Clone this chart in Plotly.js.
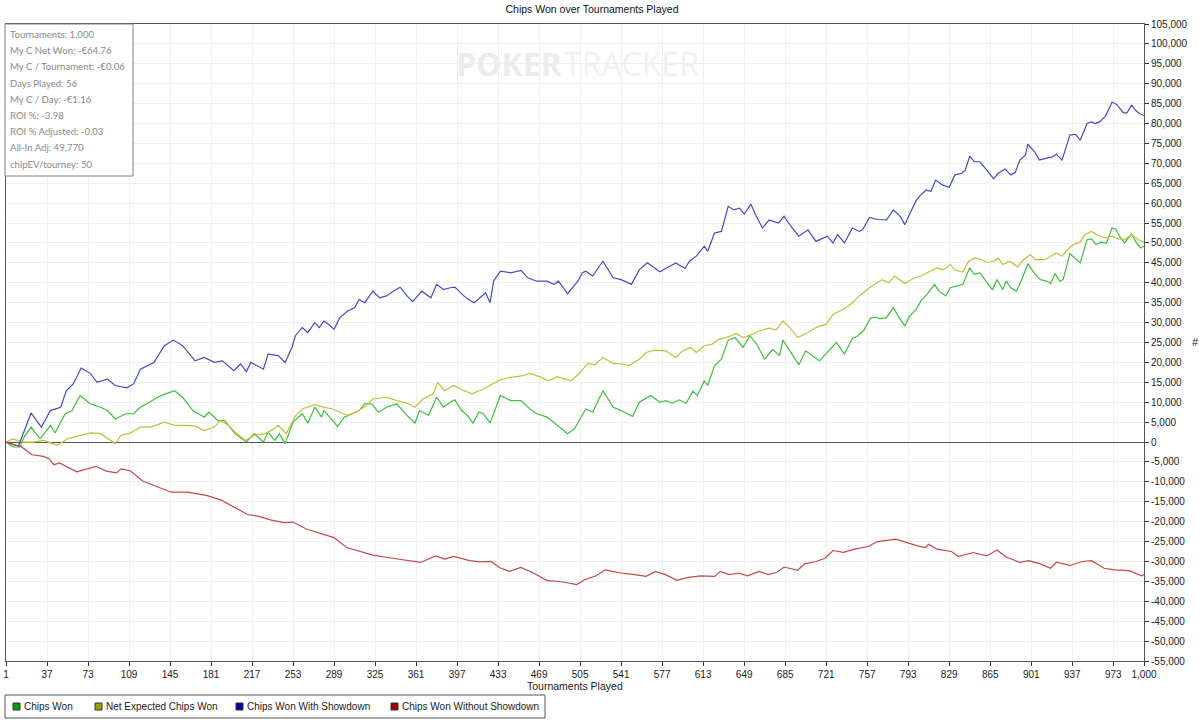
<!DOCTYPE html>
<html>
<head>
<meta charset="utf-8">
<script src="https://cdn.plot.ly/plotly-3.0.1.min.js"></script>
<style>
html,body{margin:0;padding:0;background:#fff;}
#chart{width:1199px;height:728px;}
</style>
</head>
<body>
<div id="chart"></div>
<script>
// ---- Data ----
const seriesNames = ["Chips Won", "Net Expected Chips Won", "Chips Won With Showdown", "Chips Won Without Showdown"];

const chipsWonT = [1,7,13,17,23,31,40,44,53,59,66,75,84,90,97,106,113,119,127,134,141,149,156,165,175,179,187,193,202,212,219,227,231,237,241,246,253,261,266,272,278,280,288,292,298,304,311,316,322,328,335,344,353,360,364,372,379,385,391,395,401,406,411,416,420,426,435,444,453,461,467,476,485,494,500,506,510,516,525,534,541,551,557,567,575,580,586,592,598,604,608,614,617,623,629,635,641,648,654,660,667,674,680,683,690,697,703,709,715,722,730,737,744,748,754,760,764,768,774,780,785,790,794,800,804,810,816,820,826,830,835,841,847,851,856,862,867,871,876,879,883,888,893,898,904,909,915,918,922,926,929,935,944,950,954,958,962,967,972,975,979,983,989,993,997,1000];
const chipsWonV = [0,-1250,-1250,1250,3750,800,4200,2250,7100,7900,11700,9600,8750,7900,5800,7100,7100,8750,10000,11250,12100,12900,11250,7900,6250,7500,5400,5400,2100,0,2100,0,2500,400,2100,-400,5000,7100,4750,8750,6250,7900,5400,3900,6250,7100,7900,9600,9600,7500,8750,9600,6700,4750,7900,6700,11250,8750,10000,10600,7900,6700,4750,7500,7100,4750,11700,10400,10400,8300,7100,6250,4200,2100,3300,6250,8300,7500,12900,8750,7900,6400,10000,11700,10000,10400,9750,10600,9750,12750,11700,15400,14200,19200,20800,25600,26250,23750,26700,24600,20800,23300,21700,25600,22500,19400,22900,21700,20400,22500,25000,22100,26000,26500,28000,31200,31400,31000,31250,33750,31250,29200,31500,33300,35400,37300,39600,37900,36700,38750,39200,39600,43750,42100,42500,40000,38200,40800,38300,40400,38750,37900,41000,44800,42300,40800,40400,39800,42300,40400,40800,47300,45000,50800,51000,49600,50200,50000,53750,53500,51500,50000,52300,50200,48750,49200];

const netExpT = [1,7,16,25,34,46,55,66,75,84,93,97,102,110,119,128,140,149,158,167,175,184,189,196,202,211,219,228,234,240,247,255,261,272,280,288,297,302,308,316,323,335,344,353,360,367,376,380,386,394,403,410,420,426,435,444,455,461,471,477,485,497,503,512,518,525,534,542,548,557,563,570,580,589,595,602,607,614,621,627,635,642,648,655,662,671,677,683,689,696,705,712,721,727,736,744,750,759,766,770,776,781,790,797,804,812,818,824,830,834,841,846,852,858,862,868,872,876,882,889,893,900,905,913,918,923,928,933,938,944,948,954,960,966,972,978,983,989,995,1000];
const netExpV = [0,800,0,0,400,-800,800,1700,2300,2100,400,-400,1700,2250,3750,3750,5000,4200,4200,4000,2900,3750,5400,4200,2500,400,1700,2100,2900,4200,2100,6500,8300,9400,8750,8300,7100,6700,7500,8900,10800,11250,10400,9750,8750,10800,12100,15000,12900,14200,12900,12100,13300,14200,15600,16250,16700,17250,16250,15400,16400,15400,16900,19750,19400,21250,19750,19600,19200,20800,22500,23100,22900,21250,22900,23750,22500,24200,24600,25800,26400,27250,26250,26900,27900,28600,28100,30400,28750,26250,27500,28750,29600,32100,33300,35000,36700,38750,40000,40800,40000,41700,39800,41000,41700,42900,43750,43300,44600,43200,42700,45400,46250,45800,45100,45400,46250,44600,45400,44000,45400,47100,45800,45800,46700,47500,46700,48300,49600,50200,52100,52900,51800,51250,51700,51000,50800,52100,50800,50200];

const withSdT = [1,12,16,23,32,40,49,54,60,67,75,81,90,97,107,113,119,131,140,148,156,167,175,184,191,201,207,212,216,227,231,240,246,252,255,261,266,272,276,280,284,289,294,301,307,311,316,323,329,335,341,347,353,358,366,374,379,385,391,395,403,407,412,419,422,426,429,435,444,453,459,467,476,482,486,494,503,507,510,516,525,534,541,550,557,564,575,582,589,597,601,607,614,617,623,629,635,640,645,649,655,659,665,671,679,684,690,697,705,712,722,727,731,737,744,750,753,759,766,774,780,786,790,794,800,804,809,813,817,823,829,834,840,843,847,851,856,862,868,872,878,883,887,891,896,898,904,908,914,920,923,928,935,940,944,950,954,957,961,966,972,976,982,985,989,993,996,1000];
const withSdV = [0,-1000,2000,7300,3750,7900,8750,12900,14600,18600,17250,15000,15800,14200,13600,14600,18300,20000,24200,25600,24200,20400,21250,20000,20400,17900,19600,17700,20000,18300,22100,21700,20000,23750,26700,28750,27500,30000,28750,30400,29600,28300,31250,32900,33750,35800,35000,37900,36250,36700,37900,38900,36700,35250,37900,36250,39600,38300,38750,38900,36700,35800,35000,36700,37500,35000,40400,42900,42500,43100,41250,40400,40400,39600,40400,37250,40400,42500,42900,41700,45400,41250,40800,39600,43300,45000,42750,43900,45000,43600,45400,46700,49200,47900,52500,52900,59200,58300,58750,57250,59750,57100,53750,55800,55000,56700,54200,51700,53300,50400,51700,50000,52100,50000,53750,52900,53300,56400,55900,55800,58300,56700,54600,57100,60700,62100,63300,62900,65800,64600,64000,67100,67500,68200,71800,70400,70400,68300,66100,67500,68600,67100,67700,70800,72100,74800,72900,70800,71250,71700,72300,70800,77100,77300,75800,80000,80400,80000,80400,81800,85400,84800,82700,82700,84600,83200,82500,82000];

const withoutSdT = [1,8,14,24,34,39,43,48,63,71,80,89,98,102,110,121,134,146,160,177,190,201,213,222,234,245,253,265,278,289,300,310,323,336,349,365,378,386,394,408,417,427,434,443,453,464,476,489,502,509,519,527,533,541,553,563,571,580,590,600,611,623,628,636,644,652,662,670,678,684,696,702,712,720,727,736,746,758,766,772,782,792,801,808,811,818,831,837,850,862,871,879,891,899,909,918,923,935,946,954,965,974,987,998,1000];
const withoutSdV = [0,-700,-1100,-3200,-3600,-4250,-5700,-5250,-7500,-6750,-6100,-7300,-7750,-6750,-7200,-9800,-11250,-12600,-12600,-13400,-14600,-16250,-18200,-18600,-19600,-20250,-20100,-21900,-23000,-24000,-26500,-27300,-28400,-29000,-29600,-30250,-28600,-29400,-28750,-29800,-30100,-30000,-31500,-32500,-31500,-32900,-34800,-35100,-35800,-34600,-33600,-32100,-32500,-32900,-33300,-33750,-32500,-33300,-34750,-34000,-33600,-33750,-32500,-33300,-32900,-33600,-32500,-33300,-32700,-31400,-32200,-30600,-30000,-29200,-27250,-27700,-26900,-26250,-25000,-24750,-24400,-25250,-26100,-26500,-25700,-26900,-27500,-28750,-27750,-28600,-27100,-28900,-30200,-29800,-30600,-31700,-30200,-31000,-30000,-29800,-31700,-32100,-32300,-33600,-33300];

const xTickVals = [1,37,73,109,145,181,217,253,289,325,361,397,433,469,505,541,577,613,649,685,721,757,793,829,865,901,937,973,1000];
const xTickText = ["1","37","73","109","145","181","217","253","289","325","361","397","433","469","505","541","577","613","649","685","721","757","793","829","865","901","937","973","1,000"];
const yTickVals = [-55000,-50000,-45000,-40000,-35000,-30000,-25000,-20000,-15000,-10000,-5000,0,5000,10000,15000,20000,25000,30000,35000,40000,45000,50000,55000,60000,65000,70000,75000,80000,85000,90000,95000,100000,105000];
const yTickText = ["-55,000","-50,000","-45,000","-40,000","-35,000","-30,000","-25,000","-20,000","-15,000","-10,000","-5,000","0","5,000","10,000","15,000","20,000","25,000","30,000","35,000","40,000","45,000","50,000","55,000","60,000","65,000","70,000","75,000","80,000","85,000","90,000","95,000","100,000","105,000"];

const statsLines = ["Tournaments: 1,000","My C Net Won: -€64.76","My C / Tournament: -€0.06","Days Played: 56","My C / Day: -€1.16","ROI %: -3.98","ROI % Adjusted: -0.03","All-In Adj: 49,770","chipEV/tourney: 50"];

// ---- Styles ----
const lineColors = ["#3fbd3f", "#c0c03c", "#4848c6", "#c64848"];
const swatchColors = ["#00a000", "#a0a000", "#0000a0", "#a00000"];

// plot area in pixels
const W = 1199, H = 728, L = 6, R = 55, T = 24, B = 67;
const PW = W - L - R, PH = H - T - B;
const px = v => (v - L) / PW;
const py = v => (H - B - v) / PH;

const series = [[chipsWonT, chipsWonV],[netExpT, netExpV],[withSdT, withSdV],[withoutSdT, withoutSdV]];
const traces = series.map((s, i) => ({
  type: "scatter", mode: "lines", name: seriesNames[i],
  x: s[0], y: s[1], showlegend: false,
  line: {color: lineColors[i], width: 1.2},
  hoverinfo: "x+y+name"
}));

const shapes = [];
const annotations = [];

// stats box
shapes.push({type:"rect", xref:"paper", yref:"paper", x0:px(5), x1:px(133), y0:py(176), y1:py(24),
  fillcolor:"#ffffff", line:{color:"#808080", width:1}, layer:"above"});
statsLines.forEach((t, i) => {
  annotations.push({xref:"paper", yref:"paper", x:px(8), y:py(34.5 + i*16.2), xanchor:"left", yanchor:"middle",
    text:t, showarrow:false, font:{family:"Lato, 'Open Sans', sans-serif", size:9.6, color:"#8a8a8a"}});
});

// watermark
annotations.push({xref:"paper", yref:"paper", x:px(454), y:py(64), xanchor:"left", yanchor:"middle", showarrow:false,
  text:"<b>POKER</b>", font:{family:"'Open Sans', 'Liberation Sans', sans-serif", size:32, color:"#ececec"}});
annotations.push({xref:"paper", yref:"paper", x:px(562), y:py(64), xanchor:"left", yanchor:"middle", showarrow:false,
  text:"TRACKER", font:{family:"'Open Sans', 'Liberation Sans', sans-serif", size:32, color:"#f1f1f1"}});

// y axis "#" label
annotations.push({xref:"paper", yref:"paper", x:px(1195), y:py(342), xanchor:"center", yanchor:"middle", showarrow:false,
  text:"#", font:{family:"'Liberation Sans', Arial, sans-serif", size:11, color:"#222"}});

// x axis title
annotations.push({xref:"paper", yref:"paper", x:px(575), y:py(686), xanchor:"center", yanchor:"middle", showarrow:false,
  text:"Tournaments Played", font:{family:"'Liberation Sans', Arial, sans-serif", size:10.5, color:"#222"}});

// legend box and entries
shapes.push({type:"rect", xref:"paper", yref:"paper", x0:px(5), x1:px(545), y0:py(718), y1:py(695),
  fillcolor:"rgba(0,0,0,0)", line:{color:"#555", width:1}});
const swatchX = [13, 95, 236, 391];
swatchX.forEach((sx, i) => {
  shapes.push({type:"rect", xref:"paper", yref:"paper", x0:px(sx), x1:px(sx+7), y0:py(710), y1:py(703),
    fillcolor:swatchColors[i], line:{color:"#333", width:1}});
  annotations.push({xref:"paper", yref:"paper", x:px(sx+9), y:py(706.5), xanchor:"left", yanchor:"middle", showarrow:false,
    text:seriesNames[i], font:{family:"'Liberation Sans', Arial, sans-serif", size:10, color:"#222"}});
});

const axisFont = {family:"'Liberation Sans', Arial, sans-serif", size:10, color:"#222"};

const layout = {
  width: W, height: H,
  margin: {l:L, r:R, t:T, b:B, pad:0},
  paper_bgcolor: "#ffffff", plot_bgcolor: "#ffffff",
  title: {text:"Chips Won over Tournaments Played", x:592/W, xref:"container", xanchor:"center",
    y: 1 - 9/H, yref:"container", yanchor:"middle", font:{family:"'Liberation Sans', Arial, sans-serif", size:10.5, color:"#111"}},
  showlegend: false,
  xaxis: {range:[1,1000], tickmode:"array", tickvals:xTickVals, ticktext:xTickText,
    ticks:"outside", ticklen:4, tickcolor:"#333", tickfont:axisFont,
    showgrid:true, gridcolor:"#efefef", gridwidth:1, zeroline:false,
    showline:true, linecolor:"#555", linewidth:1, mirror:true, fixedrange:true},
  yaxis: {range:[-55000,105000], side:"right", tickmode:"array", tickvals:yTickVals, ticktext:yTickText,
    ticks:"outside", ticklen:4, tickcolor:"#333", tickfont:axisFont,
    showgrid:true, gridcolor:"#efefef", gridwidth:1,
    zeroline:true, zerolinecolor:"#555", zerolinewidth:1,
    showline:true, linecolor:"#555", linewidth:1, mirror:true, fixedrange:true},
  shapes: shapes,
  annotations: annotations
};

Plotly.newPlot("chart", traces, layout, {displayModeBar:false, staticPlot:true});
</script>
</body>
</html>
